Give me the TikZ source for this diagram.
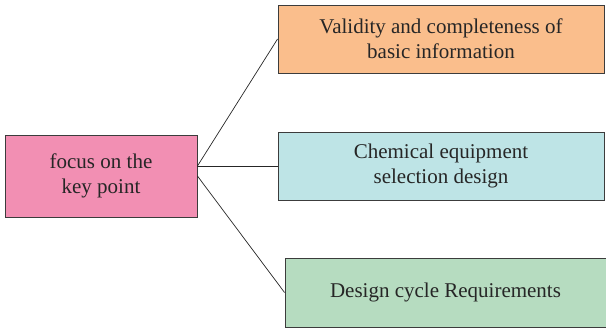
\documentclass[tikz,border=0pt]{standalone}
\usepackage{fontspec}
\setmainfont{Liberation Serif}
\usetikzlibrary{positioning}

\definecolor{pinkfill}{RGB}{242,143,179}
\definecolor{orangefill}{RGB}{250,190,140}
\definecolor{bluefill}{RGB}{190,228,230}
\definecolor{greenfill}{RGB}{182,220,192}
\definecolor{edgegray}{RGB}{60,60,60}

\begin{document}
\begin{tikzpicture}[
  x=1pt, y=-1pt,
  box/.style={rectangle, draw=edgegray, line width=0.9pt, minimum height=68pt, text centered, align=center, font=\fontsize{21}{25}\selectfont, text=black!85},
  link/.style={draw=black!85, line width=0.7pt}
]
  \useasboundingbox (0,0) rectangle (606,329);
  \node[box, fill=pinkfill, minimum width=192pt, minimum height=82pt] (focus) at (101,176) {focus on the\\ key point};
  \node[box, fill=orangefill, minimum width=326pt] (info) at (441,39) {Validity and completeness of\\ basic information};
  \node[box, fill=bluefill, minimum width=326pt] (equip) at (441,166) {Chemical equipment\\ selection design};
  \node[box, fill=greenfill, minimum width=321pt, minimum height=69pt] (cycle) at (445.5,292.5) {Design cycle Requirements};

  \coordinate (hub) at (equip.west -| focus.east);
  \draw[link] (hub) -- (info.west);
  \draw[link] (hub) -- (equip.west);
  \draw[link] (focus.east) -- (cycle.west);
\end{tikzpicture}
\end{document}
